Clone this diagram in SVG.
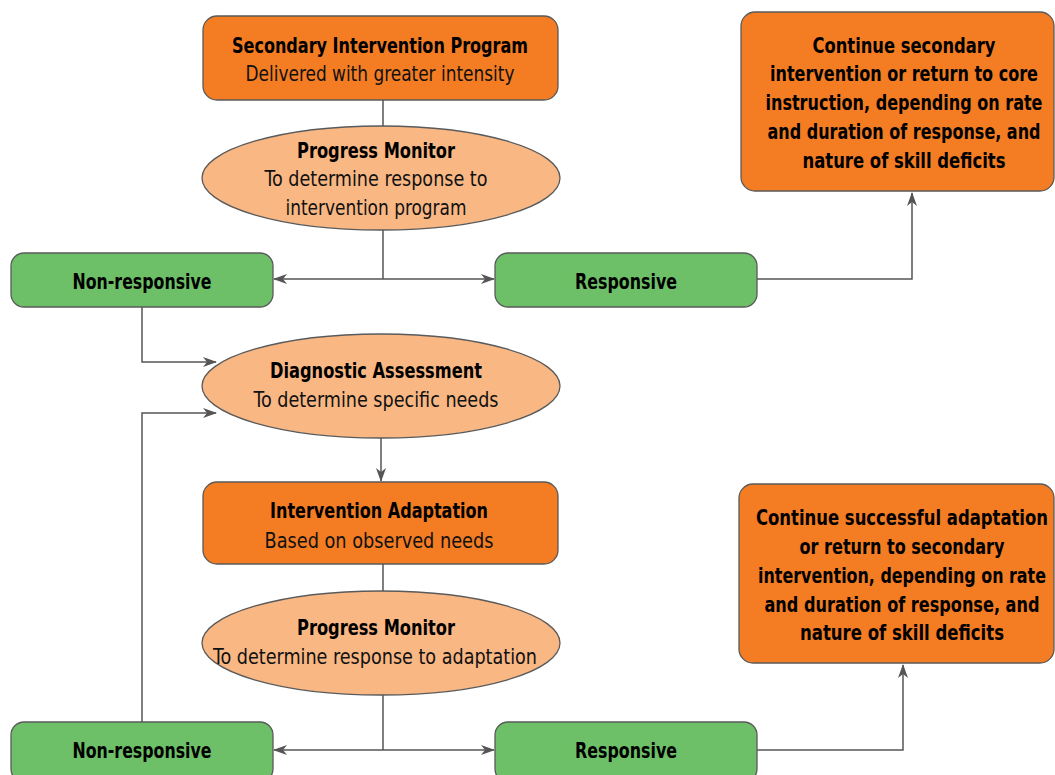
<svg xmlns="http://www.w3.org/2000/svg" width="1055" height="775" viewBox="0 0 1055 775">
<defs>
<marker id="arr" viewBox="0 0 14 10" refX="13" refY="5" markerWidth="14" markerHeight="10" markerUnits="userSpaceOnUse" orient="auto">
<path d="M0,0 L14,5 L0,10 L4,5 z" fill="#555"/>
</marker>
<style>
.box{fill:#F47C22;stroke:#5a5a5a;stroke-width:1.3}
.ell{fill:#F9B784;stroke:#5a5a5a;stroke-width:1.3}
.grn{fill:#6DC067;stroke:#5a5a5a;stroke-width:1.3}
.ln{fill:none;stroke:#555;stroke-width:1.5}
.arw{fill:none;stroke:#555;stroke-width:1.5;marker-end:url(#arr)}
text{font-family:"Liberation Sans Narrow","DejaVu Sans Condensed","Liberation Sans",sans-serif;font-size:21px;fill:#111;text-anchor:middle}
.b{font-weight:bold;font-size:22px;fill:#000}
</style>
</defs>
<rect width="1055" height="775" fill="#fff"/>
<g id="connectors">
<path class="ln" d="M383,100 V126"/>
<path class="ln" d="M383,230 V279"/>
<path class="arw" d="M383,279 H274"/>
<path class="arw" d="M383,279 H494"/>
<path class="arw" d="M757,279 H912 V193"/>
<path class="arw" d="M142,307 V362 H216"/>
<path class="arw" d="M142,722 V413 H216"/>
<path class="arw" d="M381,438 V481"/>
<path class="ln" d="M383,564 V591"/>
<path class="ln" d="M383,695 V750"/>
<path class="arw" d="M383,750 H274"/>
<path class="arw" d="M383,750 H494"/>
<path class="arw" d="M757,750 H903 V665"/>
</g>
<g id="secondary-program">
<rect class="box" x="203" y="16" width="355" height="84" rx="14"/>
<text class="b" x="380" y="53" textLength="296" lengthAdjust="spacingAndGlyphs">Secondary Intervention Program</text>
<text x="380" y="81" textLength="269" lengthAdjust="spacingAndGlyphs">Delivered with greater intensity</text>
</g>
<g id="progress-monitor-1">
<ellipse class="ell" cx="381" cy="178" rx="179" ry="52"/>
<text class="b" x="376" y="158" textLength="158" lengthAdjust="spacingAndGlyphs">Progress Monitor</text>
<text x="376" y="186" textLength="223" lengthAdjust="spacingAndGlyphs">To determine response to</text>
<text x="376" y="215" textLength="181" lengthAdjust="spacingAndGlyphs">intervention program</text>
</g>
<g id="non-responsive-1">
<rect class="grn" x="11" y="253" width="262" height="54" rx="13"/>
<text class="b" x="142" y="289" textLength="139" lengthAdjust="spacingAndGlyphs">Non-responsive</text>
</g>
<g id="responsive-1">
<rect class="grn" x="495" y="253" width="262" height="54" rx="13"/>
<text class="b" x="626" y="289" textLength="102" lengthAdjust="spacingAndGlyphs">Responsive</text>
</g>
<g id="continue-secondary">
<rect class="box" x="741" y="12" width="313" height="179" rx="14"/>
<text class="b" x="904" y="53" textLength="183" lengthAdjust="spacingAndGlyphs">Continue secondary</text>
<text class="b" x="904" y="81" textLength="268" lengthAdjust="spacingAndGlyphs">intervention or return to core</text>
<text class="b" x="904" y="110" textLength="277" lengthAdjust="spacingAndGlyphs">instruction, depending on rate</text>
<text class="b" x="904" y="139" textLength="273" lengthAdjust="spacingAndGlyphs">and duration of response, and</text>
<text class="b" x="904" y="168" textLength="203" lengthAdjust="spacingAndGlyphs">nature of skill deficits</text>
</g>
<g id="diagnostic-assessment">
<ellipse class="ell" cx="381" cy="386" rx="179" ry="52"/>
<text class="b" x="376" y="378" textLength="212" lengthAdjust="spacingAndGlyphs">Diagnostic Assessment</text>
<text x="376" y="407" textLength="245" lengthAdjust="spacingAndGlyphs">To determine specific needs</text>
</g>
<g id="intervention-adaptation">
<rect class="box" x="203" y="482" width="355" height="82" rx="14"/>
<text class="b" x="379" y="518" textLength="218" lengthAdjust="spacingAndGlyphs">Intervention Adaptation</text>
<text x="379" y="548" textLength="229" lengthAdjust="spacingAndGlyphs">Based on observed needs</text>
</g>
<g id="progress-monitor-2">
<ellipse class="ell" cx="381" cy="643" rx="179" ry="52"/>
<text class="b" x="376" y="635" textLength="158" lengthAdjust="spacingAndGlyphs">Progress Monitor</text>
<text x="375" y="664" textLength="324" lengthAdjust="spacingAndGlyphs">To determine response to adaptation</text>
</g>
<g id="non-responsive-2">
<rect class="grn" x="11" y="722" width="262" height="60" rx="13"/>
<text class="b" x="142" y="758" textLength="139" lengthAdjust="spacingAndGlyphs">Non-responsive</text>
</g>
<g id="responsive-2">
<rect class="grn" x="495" y="722" width="262" height="60" rx="13"/>
<text class="b" x="626" y="758" textLength="102" lengthAdjust="spacingAndGlyphs">Responsive</text>
</g>
<g id="continue-adaptation">
<rect class="box" x="739" y="484" width="315" height="179" rx="14"/>
<text class="b" x="902" y="525" textLength="292" lengthAdjust="spacingAndGlyphs">Continue successful adaptation</text>
<text class="b" x="902" y="554" textLength="205" lengthAdjust="spacingAndGlyphs">or return to secondary</text>
<text class="b" x="902" y="583" textLength="288" lengthAdjust="spacingAndGlyphs">intervention, depending on rate</text>
<text class="b" x="902" y="612" textLength="275" lengthAdjust="spacingAndGlyphs">and duration of response, and</text>
<text class="b" x="902" y="640" textLength="204" lengthAdjust="spacingAndGlyphs">nature of skill deficits</text>
</g>
</svg>
